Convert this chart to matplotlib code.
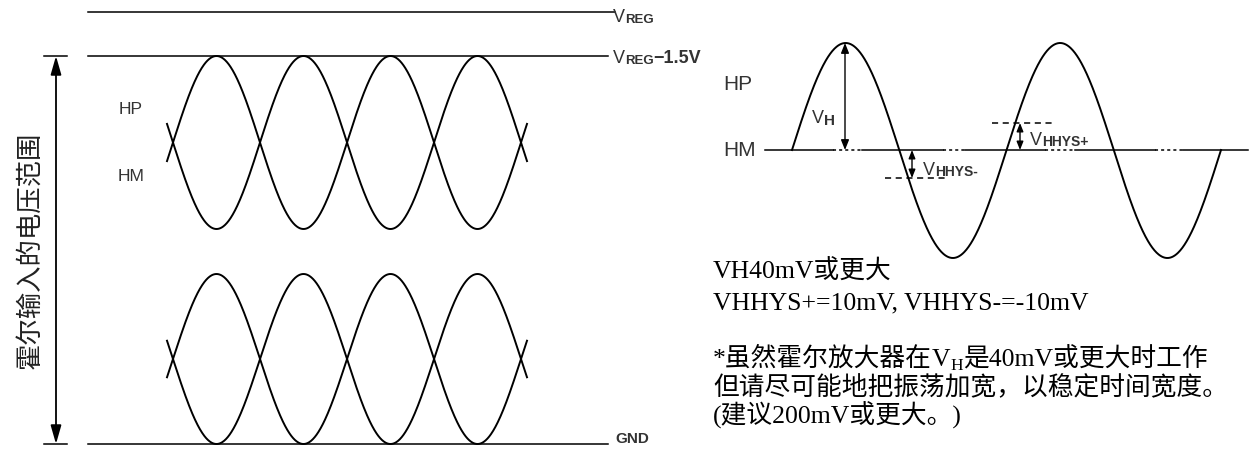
import numpy as np
import matplotlib.pyplot as plt

plt.rcParams['font.family'] = ['Liberation Sans', 'Noto Sans CJK SC', 'DejaVu Sans']

# ---- data (pixel space of the original drawing) ----
# left: supply rails
rail_y = [13, 57, 445]                 # V_REG, V_REG-1.5V, GND
rail_x0 = [88, 88, 88]
rail_x1 = [615, 608, 608]
# left: HP/HM waveforms, two examples (upper and lower)
x_cross = [173, 260, 347, 434, 521]    # crossing points of HP and HM
pair_top = [57, 275]
pair_bottom = [230, 445]
# right: single HP waveform against HM
hm_y = 151
hp_start, hp_end = 792, 1221
hp_peak, hp_trough = 44, 259
hm_dotted = [(833, 862), (943, 965), (1045, 1075), (1155, 1183)]
hys_minus_y = 179
hys_plus_y = 124

text_lines = ['VH40mV或更大',
              'VHHYS+=10mV, VHHYS-=-10mV',
              None,
              '但请尽可能地把振荡加宽，以稳定时间宽度。',
              '(建议200mV或更大。)']

W, H = 1252, 456
fig = plt.figure(figsize=(W / 100, H / 100), dpi=100)
ax = fig.add_axes([0, 0, 1, 1])
ax.set_xlim(0, W)
ax.set_ylim(H, 0)
ax.axis('off')
renderer = fig.canvas.get_renderer()

LBL = '#333333'
lw = 1.1


def runs(x, y, parts):
    # draw text pieces one after another on a common baseline
    for s, kw in parts:
        kw = dict(kw)
        dy = kw.pop('dy', 0)
        t = ax.text(x, y + dy, s, va='baseline', ha='left', **kw)
        x += t.get_window_extent(renderer).width
    return x


def arrow2(x, y0, y1, size=8):
    ax.annotate('', xy=(x, y1), xytext=(x, y0),
                arrowprops=dict(arrowstyle='<|-|>,head_length=0.5,head_width=0.2',
                                mutation_scale=size * 2, lw=1.0, color='k',
                                shrinkA=0, shrinkB=0))


# ---- left diagram ----
for y, a, b in zip(rail_y, rail_x0, rail_x1):
    ax.plot([a, b], [y, y], color='k', lw=lw)

vsub = dict(fontsize=13, color=LBL)
ssub = dict(fontsize=9.5, color=LBL, fontweight='bold', dy=1)
runs(613, 22, [('V', vsub), ('REG', ssub)])
runs(613, 63, [('V', vsub), ('REG', ssub), ('−1.5V', dict(vsub, fontweight='bold'))])
ax.text(615, 443, 'GND', fontsize=11, fontweight='bold', color=LBL,
        va='baseline', ha='left')

# voltage range arrow
for y in (rail_y[1], rail_y[2]):
    ax.plot([44, 67], [y, y], color='k', lw=lw)
ax.annotate('', xy=(56, rail_y[2]), xytext=(56, rail_y[1]),
            arrowprops=dict(arrowstyle='<|-|>,head_length=0.7,head_width=0.2',
                            mutation_scale=16, lw=1.3, color='k',
                            shrinkA=0, shrinkB=0))
ax.text(30, 250, '霍尔输入的电压范围', rotation=90, fontsize=19,
        family='Noto Sans CJK SC', color='#222222', ha='center', va='center')

half = x_cross[1] - x_cross[0]
xs = np.linspace(x_cross[0] - 6, x_cross[-1] + 6, 800)
for top, bot in zip(pair_top, pair_bottom):
    c = (top + bot) / 2
    amp = (bot - top) / 2
    s = np.sin(np.pi * (xs - x_cross[0]) / half)
    ax.plot(xs, c - amp * s, color='k', lw=1.4)
    ax.plot(xs, c + amp * s, color='k', lw=1.4)

ax.text(131, 110, 'HP', fontsize=12.5, color=LBL, ha='center', va='center')
ax.text(131, 177, 'HM', fontsize=12.5, color=LBL, ha='center', va='center')

# ---- right diagram ----
seg = [765]
for a, b in hm_dotted:
    seg += [a, b]
seg.append(1248)
for i in range(0, len(seg), 2):
    ax.plot([seg[i], seg[i + 1]], [hm_y, hm_y], color='k', lw=lw)
for a, b in hm_dotted:
    ax.plot([a, b], [hm_y, hm_y], color='k', lw=lw, ls=(0, (2, 2)))

xr = np.linspace(hp_start, hp_end, 800)
period = (hp_end - hp_start) / 2
amp_up = hm_y - hp_peak
amp_dn = hp_trough - hm_y
sr = np.sin(2 * np.pi * (xr - hp_start) / period)
yr = np.where(sr > 0, hm_y - amp_up * sr, hm_y - amp_dn * sr)
ax.plot(xr, yr, color='k', lw=1.4)

ax.text(723, 85, 'HP', fontsize=15, color=LBL, ha='left', va='center')
ax.text(723, 151, 'HM', fontsize=15, color=LBL, ha='left', va='center')

# V_H
arrow2(845, hp_peak, hm_y, size=6)
runs(812, 123, [('V', dict(fontsize=13, color=LBL)),
                ('H', dict(fontsize=11, color=LBL, fontweight='bold', dy=2))])

# hysteresis
ax.plot([885, 945], [hys_minus_y] * 2, color='k', lw=lw, ls=(0, (4, 3)))
arrow2(912, hm_y, hys_minus_y, size=5)
runs(923, 175, [('V', dict(fontsize=13, color=LBL)),
                ('HHYS-', dict(fontsize=10, color=LBL, fontweight='bold', dy=1))])
ax.plot([992, 1052], [hys_plus_y] * 2, color='k', lw=lw, ls=(0, (4, 3)))
arrow2(1020, hys_plus_y, hm_y, size=5)
runs(1030, 145, [('V', dict(fontsize=13, color=LBL)),
                 ('HHYS+', dict(fontsize=10, color=LBL, fontweight='bold', dy=1))])

# notes
serif = dict(fontsize=18.5, color='k', family=['Liberation Serif', 'Noto Sans CJK SC'])
small = dict(fontsize=12.5, color='k', family=['Liberation Serif'], dy=4)
base = [279, 309, 366, 395, 424]
for txt, y in zip(text_lines, base):
    if txt is not None:
        runs(713, y, [(txt, serif)])
runs(713, base[2], [('*虽然霍尔放大器在', serif), ('V', serif), ('H', small),
                    ('是40mV或更大时工作', serif)])

fig.savefig('out.png', dpi=100)
